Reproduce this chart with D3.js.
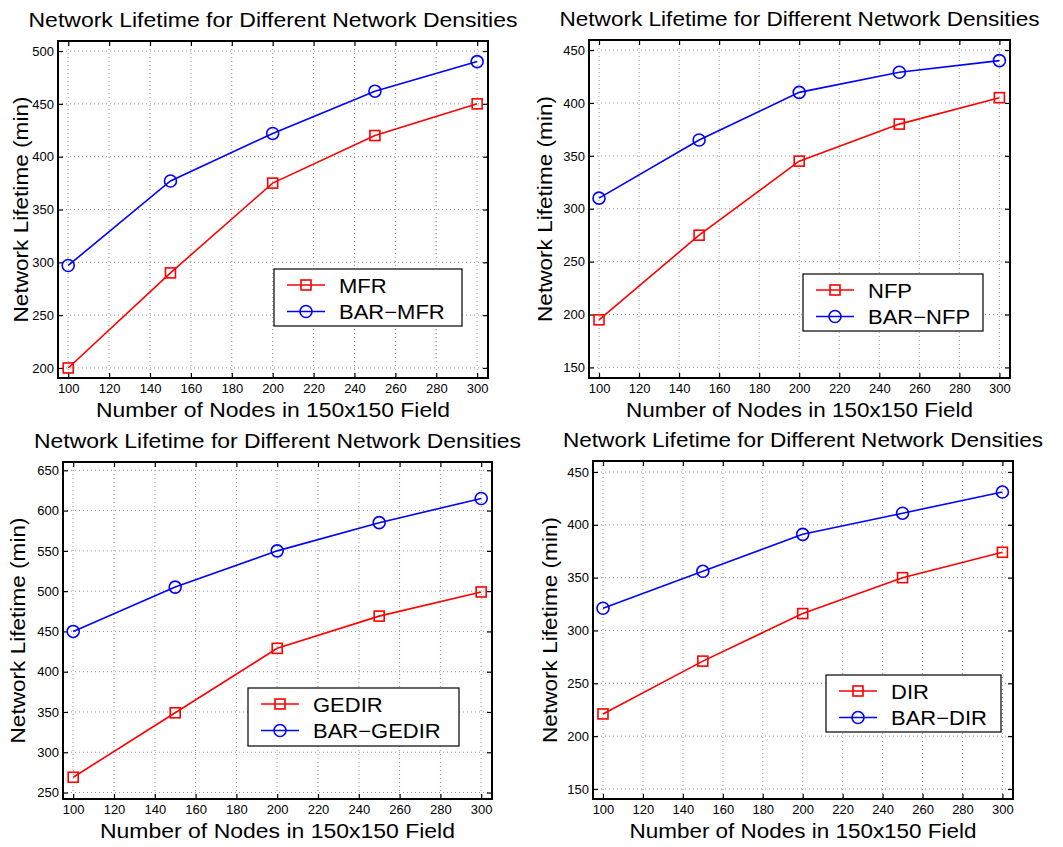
<!DOCTYPE html>
<html>
<head>
	<title> network lifetime </title>
	<script src="https://d3js.org/d3.v7.min.js"></script>
	<style>
		body { margin: 0; background: white; }
		text { font-family: "Liberation Sans", Arial, Helvetica, sans-serif; }
	</style>
</head>
<body>
<svg id="fig"></svg>
<script type="text/javascript">

	// data
	const nodes = [100, 150, 200, 250, 300];
	const xTicks = [100, 120, 140, 160, 180, 200, 220, 240, 260, 280, 300];

	const mfr = [200, 290, 375, 420, 450];
	const barMfr = [297, 377, 422, 462, 490];
	const nfp = [195, 275, 345, 380, 405];
	const barNfp = [310, 365, 410, 429, 440];
	const gedir = [269, 349, 429, 469, 499];
	const barGedir = [450, 505, 550, 585, 615];
	const dir = [221, 271, 316, 350, 374];
	const barDir = [321, 356, 391, 411, 431];

	const yTicks1 = [200, 250, 300, 350, 400, 450, 500];
	const yTicks2 = [150, 200, 250, 300, 350, 400, 450];
	const yTicks3 = [250, 300, 350, 400, 450, 500, 550, 600, 650];
	const yTicks4 = [150, 200, 250, 300, 350, 400, 450];

	const titleText = "Network Lifetime for Different Network Densities";
	const xLabel = "Number of Nodes in 150x150 Field";
	const yLabel = "Network Lifetime (min)";

	const W = 1063, H = 847;
	const svg = d3.select("#fig").attr("width", W).attr("height", H);

	// one panel per algorithm; box = axes rectangle in page pixels
	const panels = [
		{ names: ["MFR", "BAR\u2212MFR"], series: [mfr, barMfr], yTicks: yTicks1, yDom: [190.5, 509.5],
		  box: { x0: 58, x1: 488, y0: 41, y1: 378 }, yLabX: 27.6, titleW: 489, xLabW: 354,
		  legend: { x: 274, y: 269, w: 188, h: 57 } },
		{ names: ["NFP", "BAR\u2212NFP"], series: [nfp, barNfp], yTicks: yTicks2, yDom: [140, 459.5],
		  box: { x0: 589, x1: 1010, y0: 40, y1: 378 }, yLabX: 551.6, titleW: 480, xLabW: 347,
		  legend: { x: 803, y: 274, w: 180, h: 57 } },
		{ names: ["GEDIR", "BAR\u2212GEDIR"], series: [gedir, barGedir], yTicks: yTicks3, yDom: [242, 660.3],
		  box: { x0: 63, x1: 492, y0: 462, y1: 799 }, yLabX: 24.6, titleW: 487, xLabW: 355,
		  legend: { x: 248, y: 688, w: 211, h: 58 } },
		{ names: ["DIR", "BAR\u2212DIR"], series: [dir, barDir], yTicks: yTicks4, yDom: [140.5, 460.4],
		  box: { x0: 593, x1: 1013, y0: 461, y1: 799 }, yLabX: 557.3, titleW: 480, xLabW: 347,
		  legend: { x: 826, y: 675, w: 175, h: 57 } }
	];

	const colors = ["#ff0000", "#0000ff"];
	const markers = ["square", "circle"];

	function drawMarker(g, type, cx, cy, color) {
		if (type === "square") {
			g.append("rect").attr("x", cx - 5).attr("y", cy - 5).attr("width", 10).attr("height", 10)
				.style("fill", "none").style("stroke", color).style("stroke-width", 1.6);
		} else {
			g.append("circle").attr("cx", cx).attr("cy", cy).attr("r", 6)
				.style("fill", "none").style("stroke", color).style("stroke-width", 1.6);
		}
	}

	// the reference lettering is a little wider than Liberation Sans
	function widen(sel, f) {
		sel.each(function() {
			const len = this.getComputedTextLength();
			d3.select(this).attr("textLength", len * f).attr("lengthAdjust", "spacingAndGlyphs");
		});
	}

	panels.forEach(function(p) {
		const b = p.box;
		const x = d3.scaleLinear().domain([95, 305.3]).range([b.x0, b.x1]);
		const y = d3.scaleLinear().domain(p.yDom).range([b.y1, b.y0]);
		const g = svg.append("g");

		// dotted grid
		g.selectAll(".gx").data(xTicks).join("line")
			.attr("x1", d => x(d)).attr("x2", d => x(d)).attr("y1", b.y0).attr("y2", b.y1)
			.style("stroke", "#999").style("stroke-dasharray", "1,3").style("stroke-width", 1);
		g.selectAll(".gy").data(p.yTicks).join("line")
			.attr("y1", d => y(d)).attr("y2", d => y(d)).attr("x1", b.x0).attr("x2", b.x1)
			.style("stroke", "#999").style("stroke-dasharray", "1,3").style("stroke-width", 1);

		// axes with inward ticks on all four sides
		const ax = [
			[d3.axisBottom(x).tickValues(xTicks).tickSizeInner(-5).tickPadding(6), "translate(0," + b.y1 + ")"],
			[d3.axisTop(x).tickValues(xTicks).tickSizeInner(-5).tickFormat(""), "translate(0," + b.y0 + ")"],
			[d3.axisLeft(y).tickValues(p.yTicks).tickSizeInner(-5).tickPadding(4), "translate(" + b.x0 + ",0)"],
			[d3.axisRight(y).tickValues(p.yTicks).tickSizeInner(-5).tickFormat(""), "translate(" + b.x1 + ",0)"]
		];
		ax.forEach(function(a) {
			const ag = g.append("g").attr("transform", a[1]).call(a[0].tickSizeOuter(0));
			ag.select(".domain").remove();
			ag.selectAll("line").style("stroke", "black").style("stroke-width", 1.2);
			ag.selectAll("text").style("font-size", "13px").style("fill", "black")
				.style("font-family", "'Liberation Sans', Arial, sans-serif");
		});

		g.append("rect").attr("x", b.x0).attr("y", b.y0).attr("width", b.x1 - b.x0).attr("height", b.y1 - b.y0)
			.style("fill", "none").style("stroke", "black").style("stroke-width", 2);

		// series
		p.series.forEach(function(vals, i) {
			const line = d3.line().x((d, j) => x(nodes[j])).y(d => y(d));
			g.append("path").datum(vals).attr("d", line)
				.style("fill", "none").style("stroke", colors[i]).style("stroke-width", 1.6);
			vals.forEach(function(v, j) { drawMarker(g, markers[i], x(nodes[j]), y(v), colors[i]); });
		});

		// title and labels
		const cx = (b.x0 + b.x1) / 2;
		g.append("text").attr("x", cx).attr("y", b.y0 - 14.5).attr("text-anchor", "middle")
			.attr("textLength", p.titleW).attr("lengthAdjust", "spacingAndGlyphs")
			.style("font-size", "21px").text(titleText);
		g.append("text").attr("x", cx).attr("y", b.y1 + 38.5).attr("text-anchor", "middle")
			.attr("textLength", p.xLabW).attr("lengthAdjust", "spacingAndGlyphs")
			.style("font-size", "20.5px").text(xLabel);
		g.append("text").attr("transform", "translate(" + p.yLabX + "," + ((b.y0 + b.y1) / 2) + ") rotate(-90)")
			.attr("text-anchor", "middle").attr("textLength", 226).attr("lengthAdjust", "spacingAndGlyphs")
			.style("font-size", "21px").text(yLabel);

		// legend
		const L = p.legend;
		const lg = g.append("g");
		lg.append("rect").attr("x", L.x).attr("y", L.y).attr("width", L.w).attr("height", L.h)
			.style("fill", "white").style("stroke", "black").style("stroke-width", 1.2);
		p.names.forEach(function(n, i) {
			const ly = L.y + 16 + i * 26.5;
			lg.append("line").attr("x1", L.x + 13).attr("x2", L.x + 51).attr("y1", ly).attr("y2", ly)
				.style("stroke", colors[i]).style("stroke-width", 1.6);
			drawMarker(lg, markers[i], L.x + 32, ly, colors[i]);
			lg.append("text").attr("x", L.x + 65).attr("y", ly + 7.5).style("font-size", "20px").text(n)
				.call(widen, 1.1);
		});
	});

</script>
</body>
</html>
